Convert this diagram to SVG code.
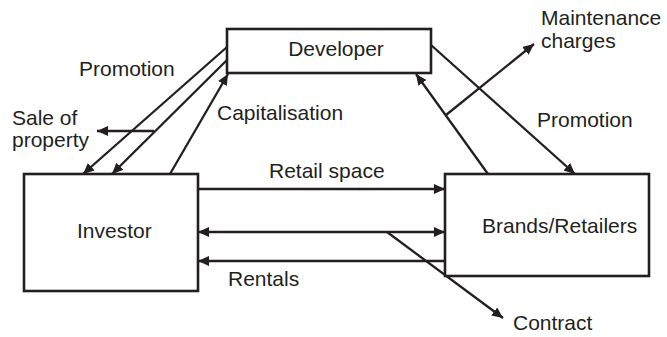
<svg xmlns="http://www.w3.org/2000/svg" width="667" height="337" viewBox="0 0 667 337">
  <defs>
    <marker id="arrow" markerUnits="userSpaceOnUse" markerWidth="12" markerHeight="11" refX="11" refY="5" orient="auto-start-reverse">
      <path d="M0,0 L11,5 L0,10 Z" fill="#231f20"/>
    </marker>
    <style>
      .box { fill: #ffffff; stroke: #231f20; stroke-width: 2.6; }
      .lbl { font-family: "Liberation Sans", Arial, sans-serif; font-size: 21px; fill: #231f20; }
      .edge { stroke: #231f20; stroke-width: 2.3; fill: none; }
      .end { marker-end: url(#arrow); }
      .both { marker-start: url(#arrow); marker-end: url(#arrow); }
    </style>
  </defs>
  <rect width="667" height="337" fill="#ffffff"/>

  <g id="connectors">
    <!-- Developer to Investor -->
    <line class="edge end" x1="227" y1="47" x2="83" y2="174"/>
    <line class="edge end" x1="227" y1="60" x2="112" y2="174"/>
    <!-- Investor to Developer -->
    <line class="edge end" x1="170" y1="174" x2="228" y2="74"/>
    <!-- Sale of property branch -->
    <line class="edge end" x1="154" y1="131" x2="97" y2="131"/>
    <!-- Developer to Brands/Retailers -->
    <line class="edge end" x1="431" y1="45" x2="575" y2="174"/>
    <!-- Brands/Retailers to Developer -->
    <line class="edge end" x1="488" y1="174" x2="416" y2="74"/>
    <!-- Maintenance charges branch -->
    <line class="edge end" x1="446" y1="115" x2="534" y2="44"/>
    <!-- Retail space -->
    <line class="edge end" x1="198" y1="189" x2="445" y2="189"/>
    <!-- Two-way link -->
    <line class="edge both" x1="198" y1="232" x2="445" y2="232"/>
    <!-- Rentals -->
    <line class="edge end" x1="445" y1="261" x2="198" y2="261"/>
    <!-- Contract branch -->
    <line class="edge end" x1="387" y1="232" x2="503" y2="318"/>
  </g>

  <g id="developer">
    <rect class="box" x="227" y="29" width="204" height="44"/>
    <text class="lbl" x="336" y="56" text-anchor="middle">Developer</text>
  </g>

  <g id="investor">
    <rect class="box" x="24" y="174" width="174" height="117"/>
    <text class="lbl" x="77" y="238">Investor</text>
  </g>

  <g id="brands-retailers">
    <rect class="box" x="445" y="174" width="204" height="102"/>
    <text class="lbl" x="482" y="233">Brands/Retailers</text>
  </g>

  <g id="labels">
    <text class="lbl" x="79" y="76">Promotion</text>
    <text class="lbl" x="12" y="125">Sale of</text>
    <text class="lbl" x="12" y="147">property</text>
    <text class="lbl" x="217" y="120">Capitalisation</text>
    <text class="lbl" x="541" y="25">Maintenance</text>
    <text class="lbl" x="541" y="48">charges</text>
    <text class="lbl" x="537" y="127">Promotion</text>
    <text class="lbl" x="269" y="178">Retail space</text>
    <text class="lbl" x="228" y="286">Rentals</text>
    <text class="lbl" x="513" y="330">Contract</text>
  </g>
</svg>
